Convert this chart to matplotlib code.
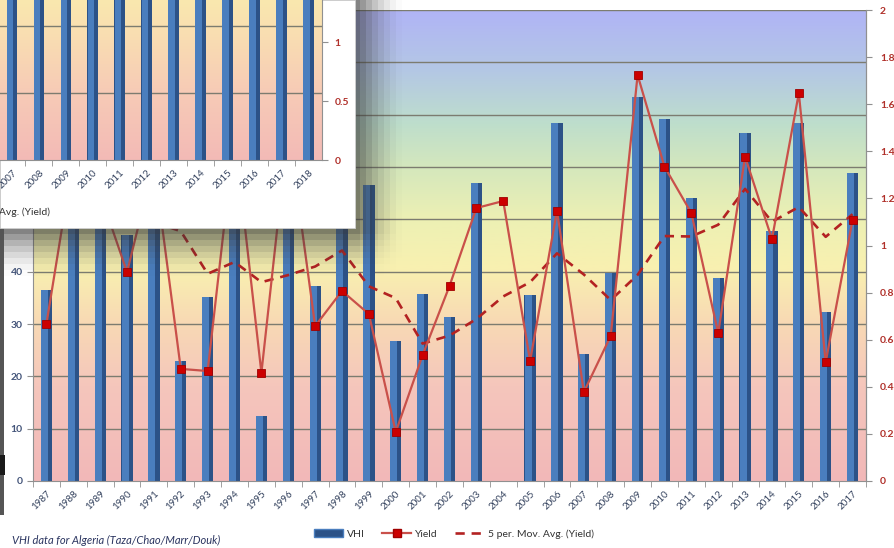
import numpy as np
import pandas as pd
import matplotlib
matplotlib.use("Agg")
from matplotlib import pyplot as plt
from matplotlib.patches import Patch, Rectangle
from matplotlib.lines import Line2D
from matplotlib.colors import LinearSegmentedColormap

plt.rcParams['font.family'] = ['Lato', 'DejaVu Sans']

# main chart: VHI (left axis) and yield (right axis), 1987-2017
years = list(range(1987, 2018))
vhi = [36.5, 58, 62, 47.0, 64, 22.9, 35.2, 55, 12.4, 66, 37.3, 60, 56.6, 26.8, 35.7, 31.3,
       57.0, np.nan, 35.5, 68.4, 24.3, 39.7, 73.4, 69.1, 54.1, 38.8, 66.5, 47.8, 68.4, 32.3, 58.8]
yields = [0.667, 1.37, 1.22, 0.887, 1.35, 0.476, 0.467, 1.47, 0.459, 1.50, 0.658, 0.807, 0.709,
          0.208, 0.535, 0.828, 1.159, 1.189, 0.510, 1.148, 0.378, 0.616, 1.724, 1.335, 1.138,
          0.628, 1.377, 1.027, 1.647, 0.505, 1.108]
ma_period = 5

# second chart window lying on top (its right-hand part)
inset_years = list(range(2007, 2019))
inset_vhi = [60, 55, 65, 62, 58, 50, 63, 52, 66, 48, 57, 61]

W, H = 894, 548
BAR_LIGHT = "#4a7ebe"
BAR_DARK = "#2c5287"
LINE_RED = "#c9504a"
MARK_RED = "#cc0000"
MA_RED = "#b32222"
NAVY = "#34425e"
AXIS_RED = "#b0302a"
GRID = "#7c7c70"


def fig_box(x0, y0, x1, y1):
    # pixel box (top-left origin) -> figure fraction rect
    return [x0 / W, 1 - y1 / H, (x1 - x0) / W, (y1 - y0) / H]


def gradient_bg(ax, stops, extent):
    cmap = LinearSegmentedColormap.from_list(
        "bg", [(p, tuple(c / 255 for c in rgb)) for p, rgb in stops])
    grad = np.linspace(0, 1, 256).reshape(-1, 1)
    ax.imshow(grad, cmap=cmap, origin="lower", extent=extent, aspect="auto", zorder=0)


def draw_bars(ax, x, h, width):
    ax.bar(x, h, width=width, color=BAR_DARK, zorder=2)
    ax.bar(x - width * 0.18, h, width=width * 0.62, color=BAR_LIGHT, zorder=2)


fig = plt.figure(figsize=(W / 100, H / 100), dpi=100)

# ---- main chart
ax = fig.add_axes(fig_box(33, 10, 866, 481))
ax.set_zorder(1)
x = np.arange(len(years))
ax.set_xlim(-0.5, len(years) - 0.5)
ax.set_ylim(0, 90)
gradient_bg(ax, [(0.0, (242, 184, 184)), (0.2, (245, 198, 188)), (0.34, (248, 218, 180)),
                 (0.45, (249, 240, 176)), (0.56, (236, 240, 180)), (0.66, (214, 232, 188)),
                 (0.76, (190, 222, 204)), (0.87, (180, 200, 228)), (1.0, (176, 180, 246))],
            [-0.5, len(years) - 0.5, 0, 90])
for v in range(10, 100, 10):
    ax.axhline(v, color=GRID, lw=1, zorder=1)
draw_bars(ax, x, vhi, 0.42)

ax.set_yticks(range(0, 100, 10))
ax.tick_params(axis="y", labelsize=7.5, labelcolor="#44557a", length=4, color="#909090")
for t in ax.get_yticklabels():
    t.set_fontweight("bold")
ax.set_xticks(x)
ax.set_xticklabels([str(y) for y in years], rotation=45, ha="right", rotation_mode="anchor",
                   fontsize=7, color=NAVY)
ax.tick_params(axis="x", which="major", length=0, pad=6)
ax.set_xticks(np.arange(-0.5, len(years)), minor=True)
ax.tick_params(axis="x", which="minor", length=4, color="#909090")
for side in ["top"]:
    ax.spines[side].set_visible(False)
for side in ["left", "bottom", "right"]:
    ax.spines[side].set_color("#909090")

ax2 = ax.twinx()
ax2.set_zorder(2)
ax2.set_ylim(0, 2)
ax2.set_yticks(np.arange(0, 2.01, 0.2))
ax2.set_yticklabels(["%g" % round(v, 1) for v in np.arange(0, 2.01, 0.2)])
ax2.tick_params(axis="y", labelsize=7.5, labelcolor=AXIS_RED, length=4, color="#909090", pad=6)
for t in ax2.get_yticklabels():
    t.set_fontweight("bold")
for side in ["top", "left", "bottom"]:
    ax2.spines[side].set_visible(False)
ax2.spines["right"].set_color("#909090")

ma = pd.Series(yields).rolling(ma_period).mean()
ax2.plot(x, ma, color=MA_RED, lw=1.9, dashes=(3.5, 2.6), zorder=3)
ax2.plot(x, yields, color=LINE_RED, lw=1.6, marker="s", ms=6, mfc=MARK_RED, mec="#a00000",
         mew=0.6, zorder=4)

# legend and caption
handles = [Patch(facecolor=BAR_DARK, edgecolor=BAR_LIGHT, label="VHI"),
           Line2D([], [], color=LINE_RED, lw=1.6, marker="s", ms=6, mfc=MARK_RED, mec="#a00000",
                  label="Yield"),
           Line2D([], [], color=MA_RED, lw=1.9, dashes=(3.5, 2.6),
                  label="%d per. Mov. Avg. (Yield)" % ma_period)]
fig.legend(handles=handles, loc="center", bbox_to_anchor=(454 / W, 1 - 534 / H), ncol=3,
           frameon=False, fontsize=7.5, handlelength=2.8, columnspacing=1.6, handletextpad=0.4,
           labelcolor="#333333")
fig.text(12 / W, 1 - 540 / H, "VHI data for Algeria (Taza/Chao/Marr/Douk)", style="italic",
         fontsize=8, color="#2b3560", va="center")

# ---- drop shadow of the window lying on top
yy, xx = np.mgrid[0:H, 0:W]
xq = (xx // 6) * 6
yq = (yy // 6) * 6
gx = np.where(xq < 355, 1.0, np.clip(1 - (xq - 355) / 46.0, 0, 1))
gy = np.where(yq < 228, 1.0, np.clip(1 - (yq - 228) / 46.0, 0, 1))
shadow = np.zeros((H, W, 4))
shadow[..., :3] = 0.22
shadow[..., 3] = 0.62 * (gx * gy) ** 1.6
fig.figimage(shadow, 0, 0, zorder=5)

# window border strip on the far left
fig.patches.append(Rectangle((0, 1 - 515 / H), 4 / W, (515 - 228) / H, transform=fig.transFigure,
                             facecolor="#555555", edgecolor="none", zorder=6))
fig.patches.append(Rectangle((0, 1 - 475 / H), 5 / W, 20 / H, transform=fig.transFigure,
                             facecolor="#1a1a1a", edgecolor="none", zorder=6))

# ---- the window on top
fig.patches.append(Rectangle((0, 1 - 228 / H), 355 / W, 228 / H, transform=fig.transFigure,
                             facecolor="white", edgecolor="#d0d0d0", lw=0.6, zorder=8))
iax = fig.add_axes(fig_box(0, 0, 322, 160))
iax.set_zorder(9)
ix = np.arange(len(inset_years))
iax.set_xlim(-0.446, len(inset_years) - 0.5)
iax.set_ylim(0, 23.9)
gradient_bg(iax, [(0.0, (243, 186, 182)), (0.45, (247, 204, 182)), (0.75, (249, 220, 178)),
                  (1.0, (250, 232, 174))],
            [-0.446, len(inset_years) - 0.5, 0, 23.9])
for v in (10, 20):
    iax.axhline(v, color=GRID, lw=1, zorder=1)
draw_bars(iax, ix, inset_vhi, 0.40)
iax.set_yticks([])
iax.set_xticks(ix)
iax.set_xticklabels([str(y) for y in inset_years], rotation=45, ha="right",
                    rotation_mode="anchor", fontsize=7, color=NAVY)
iax.tick_params(axis="x", which="major", length=0, pad=6)
iax.set_xticks(np.arange(0.5, len(inset_years) - 0.5), minor=True)
iax.tick_params(axis="x", which="minor", length=4, color="#909090")
for side in ["top", "left", "right"]:
    iax.spines[side].set_visible(False)
iax.spines["bottom"].set_color("#909090")

iax2 = iax.twinx()
iax2.set_zorder(10)
iax2.set_ylim(0, 1.356)
iax2.set_yticks([0, 0.5, 1])
iax2.set_yticklabels(["0", "0.5", "1"])
iax2.tick_params(axis="y", labelsize=7.5, labelcolor=AXIS_RED, length=4, color="#909090", pad=5)
for t in iax2.get_yticklabels():
    t.set_fontweight("bold")
for side in ["top", "left", "bottom"]:
    iax2.spines[side].set_visible(False)
iax2.spines["right"].set_color("#909090")

fig.text(50 / W, 1 - 212 / H, "5 per. Mov. Avg. (Yield)", ha="right", va="center",
         fontsize=7.5, color="#333333", zorder=11)

fig.savefig("out.png", dpi=100)
